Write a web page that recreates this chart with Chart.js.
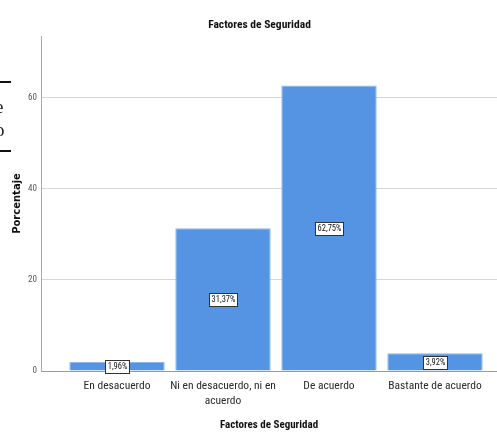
<!DOCTYPE html>
<html>
<head>
<meta charset="utf-8">
<script src="https://cdn.jsdelivr.net/npm/chart.js@4.4.1/dist/chart.umd.min.js"></script>
<style>
  html, body { margin: 0; padding: 0; background: #fff; overflow: hidden; }
  #wrap { position: relative; width: 497px; height: 432px; }
  canvas { position: absolute; left: 0; top: 0; }
  .rule { position: absolute; left: 0; width: 11px; height: 2px; background: #111; }
  .frag { position: absolute; font-family: "Liberation Serif", serif; font-size: 19px; color: #222; line-height: 1; }
</style>
</head>
<body>
<div id="wrap">
  <canvas id="c" width="497" height="432"></canvas>
  <div class="rule" style="top:81px"></div>
  <div class="frag" style="left:-5px;top:97px">e</div>
  <div class="frag" style="left:-5px;top:120px">o</div>
  <div class="rule" style="top:150px"></div>
</div>
<script>
const chartTitle = 'Factores de Seguridad';
const xAxisTitle = 'Factores de Seguridad';
const yAxisTitle = 'Porcentaje';
const categories = [
  ['En desacuerdo'],
  ['Ni en desacuerdo, ni en', 'acuerdo'],
  ['De acuerdo'],
  ['Bastante de acuerdo']
];
const percentages = [1.96, 31.37, 62.75, 3.92];
const yTicks = [0, 20, 40, 60];
const categoryIndex = [0, 1, 2, 3];

const FAM = 'Roboto, "Liberation Sans", sans-serif';

const titlePlugin = {
  id: 'topTitle',
  afterDraw(chart) {
    const ctx = chart.ctx;
    const ca = chart.chartArea;
    ctx.save();
    ctx.font = 'bold condensed 11.5px ' + FAM;
    ctx.fillStyle = '#111';
    ctx.textAlign = 'center';
    ctx.textBaseline = 'middle';
    ctx.fillText(chartTitle, (ca.left + ca.right) / 2 - 9.5, 25);
    ctx.restore();
  }
};

const labelPlugin = {
  id: 'barLabels',
  afterDatasetsDraw(chart) {
    const ctx = chart.ctx;
    const meta = chart.getDatasetMeta(0);
    ctx.save();
    ctx.font = 'condensed 8.5px ' + FAM;
    ctx.textAlign = 'center';
    ctx.textBaseline = 'middle';
    meta.data.forEach((bar, i) => {
      const txt = percentages[i].toFixed(2).replace('.', ',') + '%';
      const w = Math.round(ctx.measureText(txt).width + 4);
      const h = 13;
      const cx = Math.round(bar.x);
      const cy = Math.round((bar.y + bar.base) / 2);
      const x0 = Math.round(cx - w / 2);
      const y0 = Math.round(cy - h / 2);
      ctx.fillStyle = '#fff';
      ctx.fillRect(x0, y0, w, h);
      ctx.strokeStyle = '#333';
      ctx.lineWidth = 1;
      ctx.strokeRect(x0 + 0.5, y0 + 0.5, w, h);
      ctx.fillStyle = '#111';
      ctx.fillText(txt, cx + 0.5, cy + 1);
    });
    ctx.restore();
  }
};

new Chart(document.getElementById('c'), {
  type: 'bar',
  data: {
    datasets: [{
      data: categoryIndex.map((x, i) => ({ x: x, y: percentages[i] })),
      backgroundColor: '#5594E3',
      borderColor: '#8DB7EE',
      borderWidth: 1,
      barPercentage: 0.9,
      categoryPercentage: 1
    }]
  },
  options: {
    responsive: false,
    animation: false,
    layout: { padding: { top: 36, right: 0, left: 0, bottom: 0 } },
    plugins: { legend: { display: false }, tooltip: { enabled: false }, title: { display: false } },
    scales: {
      x: {
        type: 'linear',
        offset: false,
        min: -0.717,
        max: 3.585,
        afterBuildTicks: s => { s.ticks = categoryIndex.map(v => ({ value: v })); },
        afterFit: s => { s.height = 61; },
        grid: { display: false, drawTicks: false, offset: false },
        border: { display: true, color: '#9a9a9a', width: 1 },
        ticks: {
          autoSkip: false,
          maxRotation: 0,
          minRotation: 0,
          padding: 8,
          color: '#2a2a2a',
          font: { family: FAM, size: 11.5, weight: 'condensed', lineHeight: 1.3 },
          callback: v => categories[v] || ''
        },
        title: {
          display: true,
          text: xAxisTitle,
          color: '#111',
          font: { family: FAM, size: 11, weight: 'bold condensed', lineHeight: 1 },
          padding: { top: 0, bottom: 1 }
        }
      },
      y: {
        min: 0,
        max: 73.6,
        afterBuildTicks: s => { s.ticks = yTicks.map(v => ({ value: v })); },
        afterFit: s => { s.width = 41; },
        grid: {
          drawTicks: false,
          color: c => (c.tick && c.tick.value === 0) ? '#9a9a9a' : '#d6d6d6',
          lineWidth: 1
        },
        border: { display: true, color: '#a8a8a8', width: 1 },
        ticks: {
          padding: 4,
          color: '#555',
          font: { family: FAM, size: 9, weight: 'condensed' }
        },
        title: {
          display: true,
          text: yAxisTitle,
          color: '#111',
          font: { family: '"DejaVu Sans", sans-serif', size: 10, weight: 'bold', lineHeight: 1.2 },
          padding: { top: 11, bottom: 0 }
        }
      }
    }
  },
  plugins: [titlePlugin, labelPlugin]
});
</script>
</body>
</html>
